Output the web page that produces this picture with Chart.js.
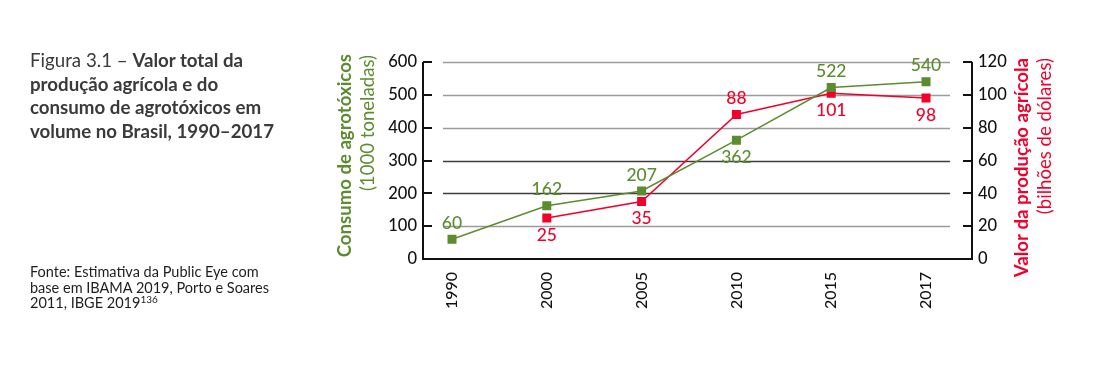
<!DOCTYPE html>
<html>
<head>
<meta charset="utf-8">
<script src="https://cdn.jsdelivr.net/npm/chart.js@4/dist/chart.umd.min.js"></script>
<style>
  html, body { margin: 0; padding: 0; background: #fff; }
  #wrap { position: relative; width: 1106px; height: 368px; overflow: hidden; }
  #c { position: absolute; left: 0; top: 0; }
  .title { position: absolute; left: 30px; top: 49px; font-family: Lato, sans-serif; font-size: 18.7px; line-height: 23.7px; color: #3a3a3a; white-space: nowrap; }
  .title b { font-weight: 700; }
  .source { position: absolute; left: 30px; top: 264px; font-family: Lato, sans-serif; font-size: 14.5px; line-height: 15.5px; color: #1e1e1e; white-space: nowrap; }
  .source sup { font-size: 10px; vertical-align: 5px; line-height: 0; }
</style>
</head>
<body>
<div id="wrap">
  <canvas id="c" width="1106" height="368"></canvas>
  <div class="title">Figura 3.1 – <b>Valor total da<br>produção agrícola e do<br>consumo de agrotóxicos em<br>volume no Brasil, 1990–2017</b></div>
  <div class="source">Fonte: Estimativa da Public Eye com<br>base em IBAMA 2019, Porto e Soares<br>2011, IBGE 2019<sup>136</sup></div>
</div>
<script>
const years = ['1990', '2000', '2005', '2010', '2015', '2017'];
const agrotoxicos = [60, 162, 207, 362, 522, 540];          // 1000 toneladas
const valorProducao = [null, 25, 35, 88, 101, 98];          // bilhões de dólares
const leftAxisTitle = ['Consumo de agrotóxicos', '(1000 toneladas)'];
const rightAxisTitle = ['Valor da produção agrícola', '(bilhões de dólares)'];

const GREEN = '#5b8c2f';
const RED = '#f2002b';
const FONT = 'Lato, sans-serif';

const area = { left: 423, right: 972, top: 62, bottom: 259 };

// label placement per point: 'a' above, 'b' below
const greenPos = ['a', 'a', 'a', 'b', 'a', 'a'];
const redPos = ['a', 'b', 'b', 'a', 'b', 'b'];

const framePlugin = {
  id: 'frame',
  beforeDatasetsDraw(chart) {
    const ctx = chart.ctx;
    const y = chart.scales.y;
    const ca = chart.chartArea;
    ctx.save();
    for (let v = 100; v <= 600; v += 100) {
      const py = Math.round(y.getPixelForValue(v)) + 0.5;
      ctx.strokeStyle = (v === 200 || v === 300) ? '#3c3c3c' : '#9b9b9b';
      ctx.lineWidth = 1.3;
      ctx.beginPath();
      ctx.moveTo(ca.left + 20, py);
      ctx.lineTo(ca.right - 22, py);
      ctx.stroke();
    }
    ctx.strokeStyle = '#111';
    ctx.lineWidth = 2;
    ctx.beginPath();
    ctx.moveTo(ca.left, ca.top);
    ctx.lineTo(ca.left, ca.bottom);
    ctx.lineTo(ca.right, ca.bottom);
    ctx.lineTo(ca.right, ca.top);
    ctx.stroke();
    for (let v = 100; v <= 600; v += 100) {
      const py = Math.round(y.getPixelForValue(v));
      ctx.beginPath();
      ctx.moveTo(ca.left, py);
      ctx.lineTo(ca.left + 9, py);
      ctx.moveTo(ca.right, py);
      ctx.lineTo(ca.right - 9, py);
      ctx.stroke();
    }
    ctx.restore();
  },
  afterDatasetsDraw(chart) {
    const ctx = chart.ctx;
    ctx.save();
    ctx.font = '500 17.5px ' + FONT;
    ctx.textAlign = 'center';
    ctx.textBaseline = 'middle';
    const sets = [[0, greenPos, GREEN, agrotoxicos], [1, redPos, RED, valorProducao]];
    sets.forEach(([di, pos, col, vals]) => {
      const meta = chart.getDatasetMeta(di);
      ctx.fillStyle = col;
      meta.data.forEach((pt, i) => {
        if (vals[i] == null) return;
        const dy = pos[i] === 'a' ? -16 : 17;
        ctx.fillText(String(vals[i]), pt.x, pt.y + dy);
      });
    });
    ctx.restore();
  },
  afterDraw(chart) {
    const ctx = chart.ctx;
    ctx.save();
    ctx.textAlign = 'right';
    ctx.textBaseline = 'middle';
    const draw = (txt, x, y, font, col) => {
      ctx.save();
      ctx.translate(x, y);
      ctx.rotate(-Math.PI / 2);
      ctx.font = font;
      ctx.fillStyle = col;
      ctx.fillText(txt, 0, 0);
      ctx.restore();
    };
    draw(leftAxisTitle[0], 345, 54, '700 18.6px ' + FONT, GREEN);
    draw(leftAxisTitle[1], 368, 55, '400 18.6px ' + FONT, GREEN);
    draw(rightAxisTitle[0], 1022, 58, '700 18.6px ' + FONT, RED);
    draw(rightAxisTitle[1], 1045, 58, '400 18.6px ' + FONT, RED);
    ctx.restore();
  }
};

new Chart(document.getElementById('c'), {
  type: 'line',
  data: {
    datasets: [
      {
        label: 'Consumo de agrotóxicos',
        data: agrotoxicos.map((v, i) => ({ x: i, y: v })),
        yAxisID: 'y',
        borderColor: GREEN,
        backgroundColor: GREEN,
        borderWidth: 1.5,
        pointStyle: 'rect',
        pointRadius: 5.3,
        pointHoverRadius: 5.3,
        tension: 0
      },
      {
        label: 'Valor da produção agrícola',
        data: valorProducao.map((v, i) => ({ x: i, y: v })),
        yAxisID: 'y1',
        borderColor: RED,
        backgroundColor: RED,
        borderWidth: 1.5,
        pointStyle: 'rect',
        pointRadius: 5.3,
        pointHoverRadius: 5.3,
        tension: 0
      }
    ]
  },
  options: {
    responsive: false,
    animation: false,
    events: [],
    layout: { padding: { top: area.top, left: 0, right: 0, bottom: 0 } },
    plugins: { legend: { display: false }, tooltip: { enabled: false } },
    scales: {
      x: {
        type: 'linear',
        min: -0.306,
        max: 5.485,
        afterBuildTicks: (s) => { s.ticks = years.map((_, i) => ({ value: i })); },
        afterFit: (s) => { s.height = 368 - area.bottom; },
        grid: { display: false, drawTicks: false },
        border: { display: false },
        ticks: {
          autoSkip: false,
          minRotation: 90,
          maxRotation: 90,
          padding: 13,
          color: '#111',
          font: { family: FONT, size: 16, weight: '500' },
          callback: (v) => years[v]
        }
      },
      y: {
        position: 'left',
        min: 0,
        max: 600,
        afterFit: (s) => { s.width = area.left; },
        grid: { display: false, drawTicks: false },
        border: { display: false },
        ticks: {
          stepSize: 100,
          padding: 6,
          color: '#111',
          font: { family: FONT, size: 16.5, weight: '500' }
        }
      },
      y1: {
        position: 'right',
        min: 0,
        max: 120,
        afterFit: (s) => { s.width = 1106 - area.right; },
        grid: { display: false, drawTicks: false },
        border: { display: false },
        ticks: {
          stepSize: 20,
          padding: 6,
          color: '#111',
          font: { family: FONT, size: 16.5, weight: '500' }
        }
      }
    }
  },
  plugins: [framePlugin]
});
</script>
</body>
</html>
